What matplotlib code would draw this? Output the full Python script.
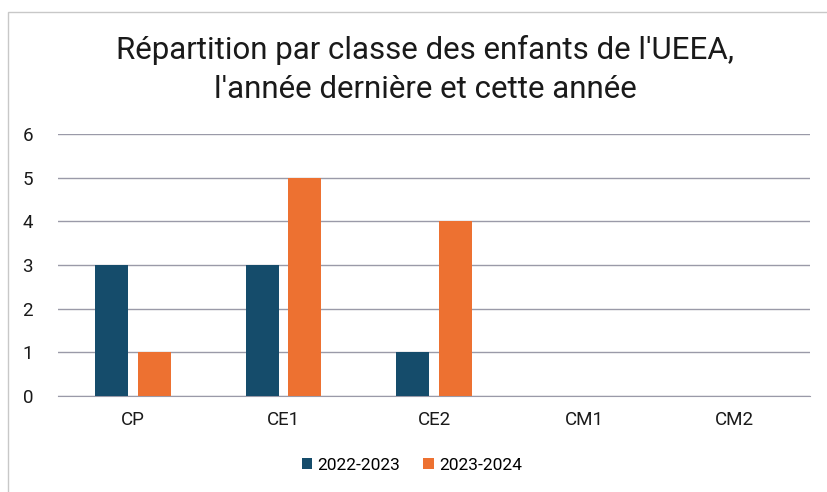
import matplotlib.pyplot as plt
import numpy as np
from matplotlib.patches import Rectangle

classes = ["CP", "CE1", "CE2", "CM1", "CM2"]
series_names = ["2022-2023", "2023-2024"]
values_2022 = [3, 3, 1, 0, 0]
values_2023 = [1, 5, 4, 0, 0]
colors = ["#154c6b", "#ed7131"]

plt.rcParams["font.family"] = ["Roboto", "DejaVu Sans"]

fig = plt.figure(figsize=(8.27, 4.92), dpi=100)
ax = fig.add_axes([58 / 827, 1 - 396 / 492, 752 / 827, 262 / 492])

x = np.arange(len(classes))
width = 0.22
ax.bar(x - 0.143, values_2022, width, color=colors[0], label=series_names[0], zorder=3)
ax.bar(x + 0.14, values_2023, width, color=colors[1], label=series_names[1], zorder=3)

ax.set_xlim(-0.5, len(classes) - 0.5)
ax.set_ylim(0, 6)
ax.set_yticks(range(7))
ax.set_xticks(x)
ax.set_xticklabels(classes)
ax.tick_params(axis="both", length=0, labelsize=13.5, colors="#1a1a1a")
ax.tick_params(axis="x", pad=11)
ax.tick_params(axis="y", pad=18)
ax.grid(axis="y", color="#9a9aa8", linewidth=1.0, zorder=0)
for side in ["top", "right", "left"]:
    ax.spines[side].set_visible(False)
ax.spines["bottom"].set_color("#9a9aa8")

fig.text(0.514, 1 - 50 / 492, "Répartition par classe des enfants de l'UEEA,",
         ha="center", va="center", fontsize=22.5, color="#1a1a1a")
fig.text(0.514, 1 - 90 / 492, "l'année dernière et cette année",
         ha="center", va="center", fontsize=22.5, color="#1a1a1a")

fig.legend(loc="center", bbox_to_anchor=(0.498, 1 - 465 / 492), ncol=2, frameon=False,
           fontsize=12.5, handlelength=0.6, handleheight=0.6, handletextpad=0.3,
           columnspacing=1.3)

fig.add_artist(Rectangle((8 / 827, -0.1), 1.2, 1 - 12 / 492 + 0.1, transform=fig.transFigure,
                         fill=False, edgecolor="#c8c8c8", linewidth=1.0))

fig.savefig("out.png", dpi=100)
